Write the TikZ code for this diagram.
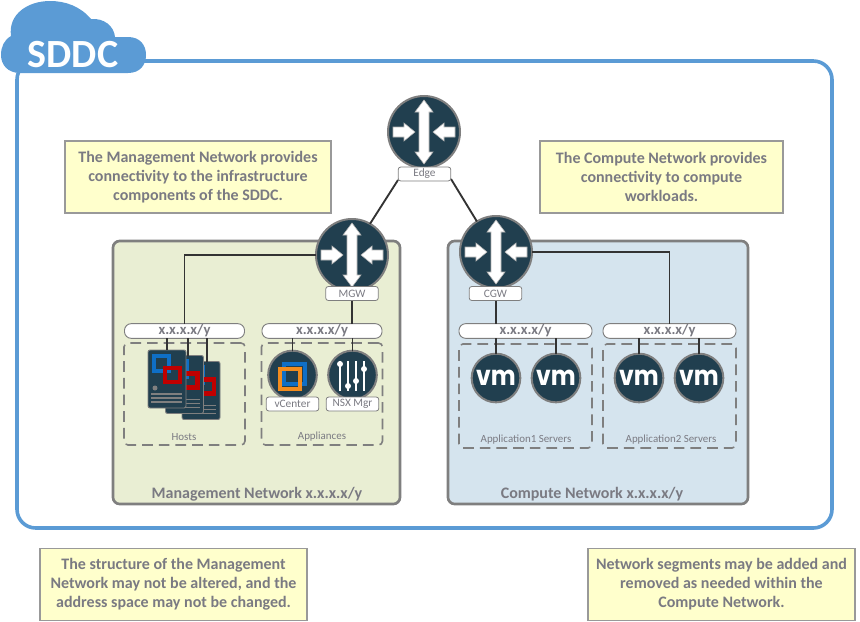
\documentclass[tikz,border=0pt]{standalone}
\usepackage{fontspec}
\setmainfont{Carlito}
\newfontfamily\vmfont[FakeStretch=0.86]{Poppins}
\definecolor{corFrame}{HTML}{5B9BD5}
\definecolor{corNote}{HTML}{FFFFCC}
\definecolor{corEdge}{HTML}{7F7F7F}
\definecolor{corText}{HTML}{7A7A82}
\definecolor{corMgmt}{HTML}{E9EED3}
\definecolor{corComp}{HTML}{D5E4EE}
\definecolor{corDark}{HTML}{213F4F}
\definecolor{corLine}{HTML}{333333}
\definecolor{corBlue}{HTML}{0F6FC6}
\definecolor{corRed}{HTML}{C00000}
\definecolor{corOrange}{HTML}{F28C1E}
\tikzset{
  notebox/.style={draw=corEdge!80, line width=1pt, fill=corNote, text=corText, font=\fontsize{12}{14.25}\selectfont\bfseries,
    align=center, inner sep=0pt, outer sep=0pt, minimum height=54pt, execute at begin node=\rule{0pt}{10pt}},
  panelbox/.style={draw=corEdge, line width=2pt, rounded corners=5pt},
  roundnode/.style={circle, draw=corEdge, line width=1.5pt, fill=corDark, inner sep=0pt, outer sep=0pt},
  routernode/.style={roundnode, minimum size=54pt},
  appnode/.style={roundnode, minimum size=36.5pt},
  vmnode/.style={appnode, text=white, font=\vmfont\fontsize{20.5}{20}\selectfont\bfseries},
  taglabel/.style={draw=corEdge, line width=.6pt, rounded corners=2pt, fill=white, text=corText, inner sep=0pt, outer sep=0pt,
    minimum width=39.5pt, minimum height=10.5pt, font=\fontsize{8.5}{9}\selectfont},
  netbar/.style={draw=corEdge, line width=.7pt, rounded corners=5pt, fill=white, text=corText, inner sep=0pt, outer sep=0pt,
    minimum height=11pt, font=\fontsize{11}{12}\selectfont\bfseries},
  groupbox/.style={draw=corEdge, line width=1.2pt, dash pattern=on 8pt off 4.5pt, rounded corners=3pt, inner sep=0pt, outer sep=0pt},
  grouplabel/.style={text=corText, inner sep=0pt, font=\fontsize{8.2}{9}\selectfont},
  panellabel/.style={text=corText, inner sep=0pt, font=\fontsize{12}{14}\selectfont\bfseries},
  hostcard/.style={draw=corEdge, line width=.7pt, rounded corners=1.5pt, fill=corDark, inner sep=0pt, outer sep=0pt, minimum width=28.5pt, minimum height=43.5pt},
  conn/.style={draw=corLine, line width=1.4pt},
  pics/routerarrows/.style={code={
    \filldraw[fill=white, draw=white!70!black, line width=.4pt] (0,-32) -- (9,-20) -- (5,-20) -- (5,20) -- (9,20) -- (0,32) -- (-9,20) -- (-5,20) -- (-5,-20) -- (-9,-20) -- cycle;
    \filldraw[fill=white, draw=white!70!black, line width=.4pt] (-31,-5) -- (-20,-5) -- (-20,-9) -- (-9,0) -- (-20,9) -- (-20,5) -- (-31,5) -- cycle;
    \filldraw[fill=white, draw=white!70!black, line width=.4pt] (31,-5) -- (20,-5) -- (20,-9) -- (9,0) -- (20,9) -- (20,5) -- (31,5) -- cycle;
  }},
  pics/hosticon/.style={code={
    \draw[corBlue, line width=3.5pt] (-13,-23) rectangle (2,-8);
    \draw[corRed, line width=3.5pt] (-2,-11) rectangle (13,3);
    \fill[corEdge] (-12,9) circle (2.5);
    \draw[corEdge, line width=1pt] (-16,15) -- (15,15) (-16,19) -- (15,19) (-16,23) -- (15,23);
  }},
}
\begin{document}
\begin{tikzpicture}[x=0.75pt, y=-0.75pt]
  \useasboundingbox (0,0) rectangle (860,621);

  % frame and cloud
  \draw[corFrame, line width=2.7pt, rounded corners=14pt] (17,61) rectangle (832,528);
  \fill[corFrame] (20,73) -- (128,73) .. controls (140,73) and (146,65) .. (146,55) .. controls (146,45) and (140,37) .. (128,37) -- (115,37)
    .. controls (114,26) and (104,18) .. (91,19) .. controls (80,6) and (65,1) .. (50,1) .. controls (28,1) and (8,14) .. (11,36)
    .. controls (4,40) and (1,47) .. (1,55) .. controls (1,65) and (8,73) .. (20,73) -- cycle;
  \node[text=white, inner sep=0pt, font=\fontsize{30}{31}\selectfont\bfseries] (sddc) at (73,55) {SDDC};

  % notes
  \node[notebox, minimum width=199.5pt] (notemgmt) at (198,177) {The Management Network provides\\connectivity to the infrastructure\\components of the SDDC.};
  \node[notebox, minimum width=182.25pt] (notecomp) at (661.5,177) {The Compute Network provides\\connectivity to compute\\workloads.};
  \node[notebox, minimum width=200.25pt] (notestruct) at (173.5,584.5) {The structure of the Management\\Network may not be altered, and the\\address space may not be changed.};
  \node[notebox, minimum width=200.25pt] (notesegs) at (721.5,584.5) {Network segments may be added and\\removed as needed within the\\Compute Network.};

  % networks
  \draw[panelbox, fill=corMgmt] (113,241) rectangle (400,504);
  \draw[panelbox, fill=corComp] (448,241) rectangle (748,504);
  \node[panellabel] (mgmtlab) at (257,494) {Management Network x.x.x.x/y};
  \node[panellabel] (complab) at (592,494) {Compute Network x.x.x.x/y};

  % groups
  \node[groupbox, minimum width=90.75pt, minimum height=76.5pt] (hostsgrp) at (184.5,394) {};
  \node[groupbox, minimum width=90.75pt, minimum height=76.5pt] (applgrp) at (322,394) {};
  \node[groupbox, minimum width=99.75pt, minimum height=78pt] (app1grp) at (525.5,396) {};
  \node[groupbox, minimum width=99.75pt, minimum height=78pt] (app2grp) at (669.5,396) {};
  \node[grouplabel] (hostslab) at (184,437) {Hosts};
  \node[grouplabel] (appllab) at (322,437) {Appliances};
  \node[grouplabel] (app1lab) at (526,440) {Application1 Servers};
  \node[grouplabel] (app2lab) at (671,440) {Application2 Servers};

  % routers
  \node[routernode] (edge) at (424,132) {};
  \node[routernode] (mgw) at (352,255) {};
  \node[routernode] (cgw) at (496,252) {};
  \pic at (edge) {routerarrows};
  \pic at (mgw) {routerarrows};
  \pic at (cgw) {routerarrows};

  % hosts
  \node[hostcard] (host3) at (201,390.5) {};
  \pic at (host3) {hosticon};
  \node[hostcard] (host2) at (184.5,384.5) {};
  \pic at (host2) {hosticon};
  \node[hostcard] (host1) at (167,379) {};
  \pic at (host1) {hosticon};
  \coordinate (tap2) at (188,356);
  \coordinate (tap3) at (207,362);

  % appliances
  \node[appnode] (vcenter) at (292.5,375) {};
  \node[appnode] (nsx) at (352.5,375) {};
  \draw[corBlue, line width=3.3pt] (284,364) rectangle (305,384);
  \draw[corOrange, line width=3.6pt] (280,369) rectangle (300,389);
  \foreach \sx/\ky in {-12.5/-11, -4.5/11, 3.5/6, 11.5/-6} {
    \draw[white, line width=2pt] (352.5+\sx,361) -- (352.5+\sx,391);
    \fill[white] (352.5+\sx,375+\ky) circle (3);
  }

  % vms
  \node[vmnode] (vm1) at (496,378) {vm};
  \node[vmnode] (vm2) at (556,378) {vm};
  \node[vmnode] (vm3) at (639,378) {vm};
  \node[vmnode] (vm4) at (699,378) {vm};

  % network bars
  \node[netbar, minimum width=90pt] (net1) at (184.5,331) {x.x.x.x/y};
  \node[netbar, minimum width=90pt] (net2) at (322,331) {x.x.x.x/y};
  \node[netbar, minimum width=99.75pt] (net3) at (525.5,331) {x.x.x.x/y};
  \node[netbar, minimum width=99.75pt] (net4) at (669.5,331) {x.x.x.x/y};

  % links
  \draw[conn] (edge) ++(-26,48) -- (mgw.60);
  \draw[conn] (edge) ++(27,47) -- (cgw.122);
  \draw[conn] (mgw.west) -| (net1.north);
  \draw[conn] (cgw.east) -| (net4.north);
  \draw[conn] (mgw.south) -- (mgw.south |- net2.north);
  \draw[conn] (cgw.south) -- (cgw.south |- net3.north);
  \draw[conn] (host1.north) -- (host1.north |- net1.south);
  \draw[conn] (tap2) -- (tap2 |- net1.south);
  \draw[conn] (tap3) -- (tap3 |- net1.south);
  \draw[conn] (vcenter.north) -- (vcenter.north |- net2.south);
  \draw[conn] (nsx.north) -- (nsx.north |- net2.south);
  \draw[conn] (vm1.north) -- (vm1.north |- net3.south);
  \draw[conn] (vm2.north) -- (vm2.north |- net3.south);
  \draw[conn] (vm3.north) -- (vm3.north |- net4.south);
  \draw[conn] (vm4.north) -- (vm4.north |- net4.south);

  % tags
  \node[taglabel] (edgetag) at (424.5,174) {Edge};
  \node[taglabel] (mgwtag) at (352,293.5) {MGW};
  \node[taglabel] (cgwtag) at (495.5,293.5) {CGW};
  \node[taglabel] (vcentertag) at (292.5,404) {vCenter};
  \node[taglabel] (nsxtag) at (352.5,404) {NSX Mgr};
\end{tikzpicture}
\end{document}
